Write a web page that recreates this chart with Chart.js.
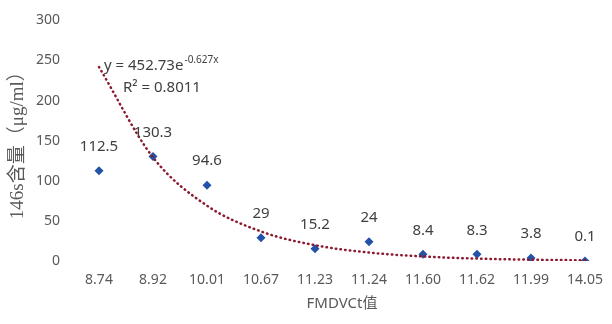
<!DOCTYPE html>
<html>
<head>
<meta charset="utf-8">
<script src="https://cdn.jsdelivr.net/npm/chart.js@4/dist/chart.umd.min.js"></script>
<style>
  html, body { margin: 0; padding: 0; background: #fff; }
  #wrap { width: 612px; height: 324px; }
</style>
</head>
<body>
<div id="wrap"><canvas id="chart" width="612" height="324"></canvas></div>
<script>
// Ct 值（横轴分类）
const ctLabels = ['8.74', '8.92', '10.01', '10.67', '11.23', '11.24', '11.60', '11.62', '11.99', '14.05'];
// 146s 含量
const contentValues = [112.5, 130.3, 94.6, 29, 15.2, 24, 8.4, 8.3, 3.8, 0.1];
// 纵轴刻度
const yTicks = [0, 50, 100, 150, 200, 250, 300];

// 指数趋势线 y = a·e^(b·x)，x 为分类序号 1..n
const trendA = 452.73;
const trendB = -0.627;
const trendR2 = '0.8011';
const trendValues = ctLabels.map((_, i) => trendA * Math.exp(trendB * (i + 1)));

const textColor = '#404040';
const tickColor = '#595959';
const labelFont = '15px "Noto Sans", sans-serif';

// 数据标签 + 趋势线公式
const labelPlugin = {
  id: 'labelPlugin',
  afterDatasetsDraw(chart) {
    const ctx = chart.ctx;
    const meta = chart.getDatasetMeta(1);
    ctx.save();
    ctx.fillStyle = textColor;
    ctx.font = labelFont;
    ctx.textAlign = 'center';
    ctx.textBaseline = 'middle';
    meta.data.forEach((pt, i) => {
      ctx.fillText(String(contentValues[i]), pt.x, pt.y - 24);
    });

    // 公式
    const start = chart.getDatasetMeta(0).data[0];
    const ex = start.x + 5;
    const ey = start.y - 1;
    ctx.textAlign = 'left';
    const base = 'y = ' + trendA + 'e';
    ctx.fillText(base, ex, ey);
    const w = ctx.measureText(base).width;
    ctx.font = '10px "Noto Sans", sans-serif';
    ctx.fillText(trendB + 'x', ex + w + 1, ey - 6);
    ctx.font = labelFont;
    ctx.fillText('R\u00B2 = ' + trendR2, ex + 19, ey + 22);
    ctx.restore();
  }
};

new Chart(document.getElementById('chart'), {
  type: 'line',
  data: {
    labels: ctLabels,
    datasets: [
      {
        label: '指数趋势线',
        data: trendValues,
        borderColor: '#8B1A2E',
        borderWidth: 2.5,
        borderDash: [0.5, 4.2],
        borderCapStyle: 'round',
        pointRadius: 0,
        cubicInterpolationMode: 'monotone',
        fill: false
      },
      {
        label: '146s含量',
        data: contentValues,
        showLine: false,
        pointStyle: 'rectRot',
        pointRadius: 4.5,
        pointBackgroundColor: '#2253A8',
        pointBorderColor: '#2253A8',
        pointBorderWidth: 0
      }
    ]
  },
  options: {
    responsive: false,
    animation: false,
    layout: {
      autoPadding: false,
      padding: { top: 20, right: 0, left: 0, bottom: 0 }
    },
    plugins: {
      legend: { display: false },
      tooltip: { enabled: false }
    },
    scales: {
      x: {
        offset: true,
        // 隐藏刻度线，只用 tickLength 留出标签间距
        grid: { display: false, drawTicks: true, tickLength: 11 },
        border: { display: false },
        ticks: {
          color: tickColor,
          font: { size: 14, family: '"Noto Sans", sans-serif' },
          padding: 0,
          maxRotation: 0,
          autoSkip: false
        },
        title: {
          display: true,
          text: 'FMDVCt值',
          color: tickColor,
          font: { size: 15, family: '"Noto Sans", "Noto Sans CJK SC", sans-serif' },
          padding: { top: 4, bottom: 11 }
        },
        afterFit(scale) { scale.height = 63; }
      },
      y: {
        min: 0,
        max: 300,
        afterBuildTicks(scale) { scale.ticks = yTicks.map(v => ({ value: v })); },
        grid: { display: false, drawTicks: false },
        border: { display: false },
        ticks: {
          color: tickColor,
          font: { size: 14, family: '"Noto Sans", sans-serif' },
          padding: 12
        },
        title: {
          display: true,
          text: '146s含量（μg/ml）',
          color: tickColor,
          font: { size: 19, family: '"Liberation Serif", "Noto Sans CJK SC", serif' },
          padding: { top: 7, bottom: 0 }
        },
        afterFit(scale) { scale.width = 72; }
      }
    }
  },
  plugins: [labelPlugin]
});
</script>
</body>
</html>
